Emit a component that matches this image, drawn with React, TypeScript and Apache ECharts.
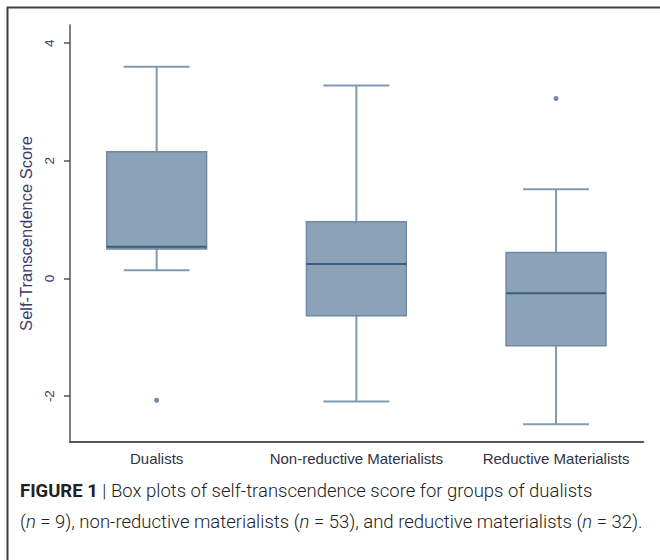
import React, { useEffect, useRef } from "react";
import * as echarts from "echarts";

const categories = ["Dualists", "Non-reductive Materialists", "Reductive Materialists"];
const whiskerLow = [0.14, -2.09, -2.48];
const q1 = [0.5, -0.635, -1.145];
const median = [0.54, 0.245, -0.253];
const q3 = [2.155, 0.965, 0.444];
const whiskerHigh = [3.6, 3.28, 1.516];
const outlierGroup = [0, 2];
const outlierValue = [-2.07, 3.06];
const yTicks = [-2, 0, 2, 4];
const yTitle = "Self-Transcendence Score";
const captionLine1 = "{b|FIGURE 1} | Box plots of self-transcendence score for groups of dualists";
const captionLine2 =
  "({i|n} = 9), non-reductive materialists ({i|n} = 53), and reductive materialists ({i|n} = 32).";

const HALF_BOX = 0.25;
const HALF_CAP = 0.165;

export default function App() {
  const ref = useRef<HTMLDivElement>(null);
  useEffect(() => {
    document.body.style.margin = "0";
    const chart = echarts.init(ref.current as HTMLDivElement, null, { renderer: "svg" });
    const boxData = categories.map((_, i) => [i, whiskerLow[i], q1[i], median[i], q3[i], whiskerHigh[i]]);
    const outliers = outlierGroup.map((g, i) => [g, outlierValue[i]]);

    const renderBox = (_params: any, api: any) => {
      const x = api.value(0);
      const lo = api.value(1);
      const b1 = api.value(2);
      const med = api.value(3);
      const b3 = api.value(4);
      const hi = api.value(5);
      const tl = api.coord([x - HALF_BOX, b3]);
      const br = api.coord([x + HALF_BOX, b1]);
      const cHi = api.coord([x, hi]);
      const cQ3 = api.coord([x, b3]);
      const cQ1 = api.coord([x, b1]);
      const cLo = api.coord([x, lo]);
      const capHiL = api.coord([x - HALF_CAP, hi]);
      const capHiR = api.coord([x + HALF_CAP, hi]);
      const capLoL = api.coord([x - HALF_CAP, lo]);
      const capLoR = api.coord([x + HALF_CAP, lo]);
      const mL = api.coord([x - HALF_BOX, med]);
      const mR = api.coord([x + HALF_BOX, med]);
      const wStyle = { stroke: "#7f9ab3", lineWidth: 2, fill: null };
      return {
        type: "group",
        children: [
          { type: "line", shape: { x1: cHi[0], y1: cHi[1], x2: cQ3[0], y2: cQ3[1] }, style: wStyle },
          { type: "line", shape: { x1: cQ1[0], y1: cQ1[1], x2: cLo[0], y2: cLo[1] }, style: wStyle },
          { type: "line", shape: { x1: capHiL[0], y1: capHiL[1], x2: capHiR[0], y2: capHiR[1] }, style: wStyle },
          { type: "line", shape: { x1: capLoL[0], y1: capLoL[1], x2: capLoR[0], y2: capLoR[1] }, style: wStyle },
          {
            type: "rect",
            shape: { x: tl[0], y: tl[1], width: br[0] - tl[0], height: br[1] - tl[1] },
            style: { fill: "#8ca2b8", stroke: "#7089a4", lineWidth: 1.5 },
          },
          { type: "line", shape: { x1: mL[0], y1: mL[1], x2: mR[0], y2: mR[1] }, style: { stroke: "#3d5c7c", lineWidth: 2 } },
        ],
      };
    };

    const option: any = {
      animation: false,
      backgroundColor: "#ffffff",
      grid: { left: 70, top: 25, width: 573.3, height: 417, containLabel: false },
      xAxis: {
        type: "value",
        min: -0.434,
        max: 2.437,
        splitLine: { show: false },
        axisLine: { show: true, onZero: false, lineStyle: { color: "#555", width: 2 } },
        axisTick: { show: false },
        axisLabel: {
          customValues: [0, 1, 2],
          formatter: (v: number) => categories[Math.round(v)],
          fontSize: 15,
          color: "#2f3342",
          fontFamily: "Liberation Sans",
          margin: 9,
        },
      },
      yAxis: {
        type: "value",
        min: -2.78,
        max: 4.31,
        name: yTitle,
        nameLocation: "middle",
        nameGap: 31,
        nameTextStyle: { fontSize: 16.5, color: "#3b3b6b", fontFamily: "Liberation Sans" },
        splitLine: { show: false },
        axisLine: { show: true, onZero: false, lineStyle: { color: "#555", width: 1.5 } },
        axisTick: { show: true, length: 6, customValues: yTicks, lineStyle: { color: "#555", width: 1.5 } },
        axisLabel: {
          customValues: yTicks,
          rotate: 90,
          fontSize: 13.5,
          color: "#3b3b6b",
          fontFamily: "Liberation Sans",
          margin: 14,
        },
      },
      series: [
        {
          type: "custom",
          renderItem: renderBox,
          encode: { x: 0, y: [1, 2, 3, 4, 5] },
          data: boxData,
          z: 2,
        },
        {
          type: "scatter",
          data: outliers,
          symbolSize: 5,
          itemStyle: { color: "#4f6d8c" },
          z: 3,
        },
      ],
      graphic: [
        {
          type: "rect",
          shape: { x: 7.5, y: 7.5, width: 700, height: 700 },
          style: { fill: null, stroke: "#3f3f3f", lineWidth: 2 },
          silent: true,
        },
        {
          type: "text",
          x: 20,
          y: 491,
          style: {
            text: captionLine1,
            fontFamily: "Roboto",
            fontWeight: 300,
            fontSize: 18.5,
            fill: "#222",
            verticalAlign: "middle",
            rich: {
              b: { fontFamily: "Roboto", fontWeight: "bold", fontSize: 18.5, fill: "#222" },
            },
          },
        },
        {
          type: "text",
          x: 20,
          y: 522,
          style: {
            text: captionLine2,
            fontFamily: "Roboto",
            fontWeight: 300,
            fontSize: 18.5,
            fill: "#222",
            verticalAlign: "middle",
            rich: {
              i: { fontFamily: "Roboto", fontWeight: 300, fontStyle: "italic", fontSize: 18.5, fill: "#222" },
            },
          },
        },
      ],
    };
    chart.setOption(option);
    return () => chart.dispose();
  }, []);
  return <div ref={ref} style={{ width: 660, height: 560 }} />;
}
